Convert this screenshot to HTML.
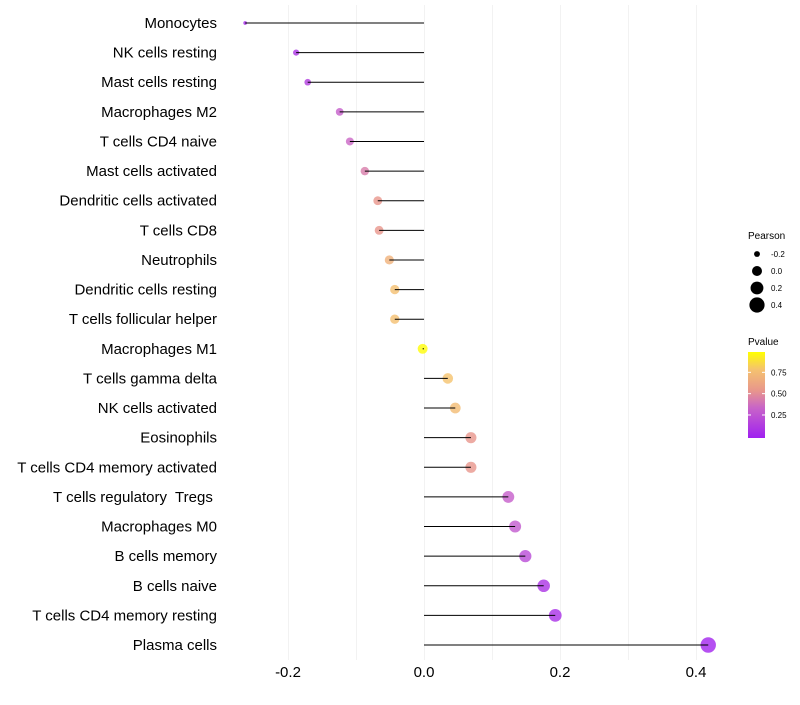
<!DOCTYPE html>
<html><head><meta charset="utf-8"><style>
body{margin:0;background:#fff;font-family:"Liberation Sans",sans-serif;}
text{white-space:pre;}
</style></head><body>
<svg id="chart" width="800" height="700" xmlns="http://www.w3.org/2000/svg"></svg>
<script>
const categories=["Monocytes","NK cells resting","Mast cells resting","Macrophages M2","T cells CD4 naive","Mast cells activated","Dendritic cells activated","T cells CD8","Neutrophils","Dendritic cells resting","T cells follicular helper","Macrophages M1","T cells gamma delta","NK cells activated","Eosinophils","T cells CD4 memory activated","T cells regulatory  Tregs ","Macrophages M0","B cells memory","B cells naive","T cells CD4 memory resting","Plasma cells"];
const pearson=[-0.263,-0.188,-0.171,-0.124,-0.109,-0.087,-0.068,-0.066,-0.051,-0.043,-0.043,-0.002,0.035,0.046,0.069,0.069,0.124,0.134,0.149,0.176,0.193,0.418];
const pvalue=[0.04,0.1,0.15,0.32,0.36,0.45,0.55,0.55,0.7,0.78,0.78,0.99,0.8,0.76,0.55,0.55,0.32,0.3,0.22,0.1,0.08,0.02];
const xTicks=[-0.2,0,0.2,0.4];
const xTickLabels=["-0.2","0.0","0.2","0.4"];
const sizeLegend=[-0.2,0,0.2,0.4];
const colorLegend=[0.25,0.5,0.75];

const svg=document.getElementById('chart');
const NS="http://www.w3.org/2000/svg";
const x=v=>424+v*680;
const y=i=>23+i*(622/(categories.length-1));
const r=v=>Math.sqrt(Math.max(2,25+82*v));
const stops=[[0,[160,32,240]],[0.35,[200,100,200]],[0.55,[232,150,140]],[0.8,[245,195,110]],[1,[255,255,0]]];
function col(p){for(let k=1;k<stops.length;k++){if(p<=stops[k][0]){const [p0,a]=stops[k-1],[p1,b]=stops[k];const t=(p-p0)/(p1-p0);return `rgb(${a.map((c,j)=>Math.round(c+(b[j]-c)*t)).join(',')})`;}}return 'rgb(255,255,0)';}
function mk(t,at,p){const e=document.createElementNS(NS,t);for(const k in at)e.setAttribute(k,at[k]);(p||svg).appendChild(e);return e;}
for(let k=-2;k<=4;k++){
  const gx=Math.round(x(k/10))+0.5;
  const g=mk('line',{x1:gx,x2:gx,y1:5,y2:660,stroke:'#f2f2f2','stroke-width':1});
  
  
}
xTicks.forEach((t,i)=>{
  const e=mk('text',{x:x(t),y:677,'text-anchor':'middle','font-size':15,fill:'#000'});
  e.textContent=xTickLabels[i];
  
  
});
categories.forEach((c,i)=>{
  const t=mk('text',{x:217,y:y(i)+5,'text-anchor':'end','font-size':15,fill:'#000'});
  t.textContent=c;
  
  
  const d=mk('circle',{cx:x(pearson[i]),cy:y(i),r:r(pearson[i]),fill:col(pvalue[i]),'fill-opacity':0.8});
  
  
  const l=mk('line',{x1:x(0),x2:x(pearson[i]),y1:y(i),y2:y(i),stroke:'#000','stroke-width':1});
  
  
});
const lt=mk('text',{x:748,y:239,'font-size':10,fill:'#000'});lt.textContent='Pearson';


sizeLegend.forEach((v,i)=>{
  const cy=254+i*17;
  const c=mk('circle',{cx:757,cy:cy,r:r(v),fill:'#000'});
  
  
  const t=mk('text',{x:771,y:cy+3,'font-size':8,fill:'#000'});t.textContent=v.toFixed(1);
  
  
});
const pt=mk('text',{x:748,y:345,'font-size':10,fill:'#000'});pt.textContent='Pvalue';


const defs=mk('defs',{});const gr=mk('linearGradient',{id:'pg',x1:0,y1:1,x2:0,y2:0},defs);
stops.forEach(s=>mk('stop',{offset:s[0],"stop-color":col(s[0])},gr));
const bar=mk('rect',{x:748,y:352,width:17,height:86,fill:'url(#pg)'});


colorLegend.forEach(v=>{
  const yy=436.3-v*85.3;
  mk('line',{x1:748,x2:751,y1:yy,y2:yy,stroke:'#fff'});mk('line',{x1:762,x2:765,y1:yy,y2:yy,stroke:'#fff'});
  const t=mk('text',{x:771,y:yy+3,'font-size':8,fill:'#000'});t.textContent=v.toFixed(2);
  
  
});
</script>
</body></html>
